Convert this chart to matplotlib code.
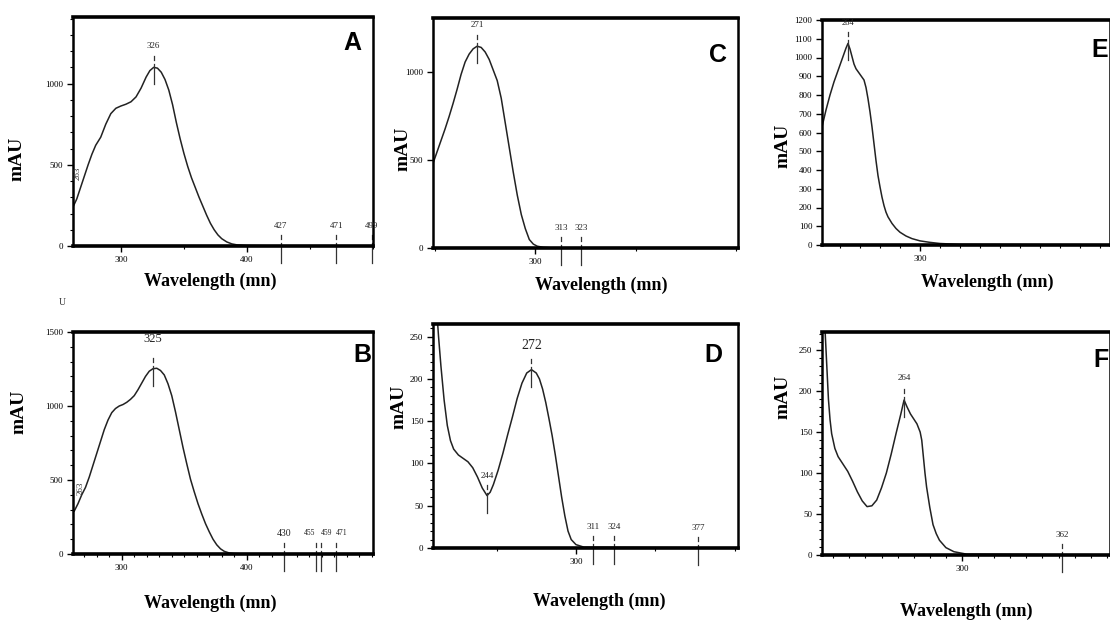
import numpy as np
import matplotlib.pyplot as plt
from matplotlib.ticker import MultipleLocator
from matplotlib.transforms import offset_copy

plt.rcParams['font.family'] = ['Liberation Serif', 'DejaVu Serif']

# 光谱数据
wl_a = [262, 265, 268, 271, 274, 277, 280, 284, 288, 292, 296, 300, 304, 308, 312, 316, 320, 323, 326, 329,
        332, 335, 338, 341, 344, 347, 350, 353, 356, 359, 362, 365, 368, 371, 374, 377, 380, 384, 388, 392,
        400, 420, 500]
mau_a = [240, 290, 360, 430, 500, 565, 620, 670, 750, 815, 848, 862, 873, 888, 918, 972, 1040, 1080, 1100, 1095,
         1070, 1025, 960, 870, 760, 660, 570, 490, 420, 360, 300, 245, 190, 140, 100, 68, 45, 25, 13, 7,
         3, 1, 0]

wl_b = [262, 265, 268, 271, 274, 277, 280, 283, 286, 289, 292, 295, 298, 301, 304, 307, 310, 313, 316, 319,
        322, 325, 328, 331, 334, 337, 340, 343, 346, 349, 352, 355, 358, 361, 364, 367, 370, 373, 376, 379,
        382, 386, 390, 400, 501]
mau_b = [290, 340, 400, 450, 520, 600, 680, 760, 840, 905, 955, 983, 1000, 1010, 1025, 1045, 1070, 1110, 1155, 1200,
         1235, 1252, 1255, 1240, 1210, 1150, 1070, 960, 840, 720, 610, 505, 420, 340, 270, 205, 150, 100, 62, 35,
         18, 7, 3, 0, 0]

wl_c = [249, 251, 253, 255, 257, 259, 261, 263, 265, 267, 269, 271, 273, 275, 277, 279, 281, 283, 285, 287,
        289, 291, 293, 295, 297, 299, 301, 304, 308, 401]
mau_c = [480, 545, 610, 675, 745, 820, 900, 985, 1055, 1100, 1130, 1145, 1138, 1112, 1070, 1010, 950, 850, 710, 570,
         430, 300, 190, 110, 48, 22, 10, 4, 1, 0]

wl_d = [210, 212, 213.5, 215, 217, 219, 221, 223, 226, 229, 232, 235, 238, 241, 244, 246, 248, 251, 254, 257,
        260, 263, 266, 269, 272, 275, 277, 279, 281, 283, 285, 287, 289, 291, 293, 295, 297, 300, 305, 402]
mau_d = [330, 290, 250, 215, 175, 145, 127, 117, 110, 106, 102, 95, 84, 71, 62, 66, 75, 92, 112, 134,
         155, 177, 195, 207, 211, 207, 200, 188, 172, 153, 133, 110, 85, 60, 38, 20, 10, 4, 1, 0]

wl_e = [251, 253, 255, 257, 259, 261, 263, 264, 265, 266, 267, 268, 270, 272, 273, 274, 275, 276, 277, 278,
        279, 280, 281, 282, 283, 284, 286, 288, 290, 293, 296, 300, 305, 310, 320, 395]
mau_e = [630, 720, 800, 870, 930, 990, 1050, 1075, 1045, 1005, 965, 940, 910, 880, 840, 780, 710, 630, 540, 450,
         370, 310, 255, 210, 175, 150, 115, 88, 68, 48, 34, 22, 14, 8, 3, 0]

wl_f = [213, 215, 216, 217, 218, 219, 221, 223, 226, 229, 232, 235, 238, 241, 244, 247, 250, 253, 256, 259,
        262, 264, 266, 268, 270, 272, 274, 275, 276, 277, 278, 280, 282, 284, 286, 290, 295, 303, 392]
mau_f = [290, 270, 230, 190, 165, 148, 130, 120, 111, 102, 90, 77, 66, 59, 60, 67, 82, 100, 123, 148,
         172, 189, 180, 172, 166, 160, 150, 140, 120, 100, 83, 58, 37, 26, 18, 9, 4, 1, 0]

# 峰标记
peaks_a = [326, 427, 471, 499]
peaks_b = [325, 430, 455, 459, 471]
peaks_c = [271, 313, 323]
peaks_d = [272, 244, 311, 324, 377]
peaks_e = [264]
peaks_f = [264, 362]


def Panel(fig, rect, wl, mau, xlim, ylim, yticks, xmaj, xminor, yminor, letter,
          peaks, peak_fs, ylab_pos, xlab_pos, letter_pos):
    ax = fig.add_axes(rect)
    ax.plot(wl, mau, color='#222222', lw=1.1)
    ax.set_xlim(xlim)
    ax.set_ylim(ylim)
    ax.set_yticks(yticks)
    ax.set_xticks(xmaj)
    if xminor:
        ax.xaxis.set_minor_locator(MultipleLocator(xminor))
    if yminor:
        ax.yaxis.set_minor_locator(MultipleLocator(yminor))
    ax.tick_params(which='major', direction='out', length=4, width=1, labelsize=6.5, pad=3)
    ax.tick_params(which='minor', direction='out', length=2, width=0.8)
    for s in ['top', 'bottom']:
        ax.spines[s].set_linewidth(2.6)
    for s in ['left', 'right']:
        ax.spines[s].set_linewidth(1.8)

    # 峰标注: 数字, 小短线, 穿过峰的竖线
    for i, p in enumerate(peaks):
        v = np.interp(p, wl, mau)
        fs, dy, ha = peak_fs[i]
        t_txt = offset_copy(ax.transData, fig=fig, x=0, y=dy, units='dots')
        ax.text(p, v, str(p), transform=t_txt, ha=ha, va='center',
                fontsize=fs, color='#222222', clip_on=False)
        px, py = ax.transData.transform((p, v))
        ax.plot([px, px], [py + 7, py + 11], transform=None, color='#333333', lw=0.9, clip_on=False)
        ax.plot([px, px], [py + 3, py - 17], transform=None, color='#333333', lw=0.9, clip_on=False)

    ax.set_ylabel('mAU', fontsize=14, fontweight='bold')
    ax.yaxis.set_label_coords(ylab_pos[0], ylab_pos[1])
    ax.set_xlabel('Wavelength (mn)', fontsize=13, fontweight='bold')
    ax.xaxis.set_label_coords(xlab_pos[0], xlab_pos[1])
    ax.text(letter_pos[0], letter_pos[1], letter, transform=ax.transAxes, ha='center', va='center',
            fontsize=18, fontweight='bold', family=['Liberation Sans Narrow', 'Liberation Sans', 'DejaVu Sans'])
    return ax


W, H = 1110, 621
fig = plt.figure(figsize=(W / 100, H / 100), dpi=100)


def R(l, r, t, b):
    return [l / W, 1 - b / H, (r - l) / W, (b - t) / H]


axA = Panel(fig, R(73, 373, 17, 246), wl_a, mau_a, (262, 500), (0, 1410), [0, 500, 1000], [300, 400], 50, 100,
            'A', peaks_a, [(6.5, 21, 'center'), (6.5, 20, 'center'), (6.5, 20, 'center'), (6.5, 20, 'center')],
            (-0.16, 0.38), (0.457, -0.115), (0.93, 0.885))
axA.text(266, 448, '263', rotation=90, fontsize=6.5, ha='center', va='center', color='#333333')

axB = Panel(fig, R(73, 373, 332, 554), wl_b, mau_b, (261, 501), (0, 1480), [0, 500, 1000, 1500], [300, 400], 10, 100,
            'B', peaks_b, [(9, 30, 'center'), (7, 21, 'center'), (5.5, 21, 'right'), (5.5, 21, 'left'), (5.5, 21, 'left')],
            (-0.15, 0.64), (0.457, -0.185), (0.963, 0.895))
axB.text(267, 447, '263', rotation=90, fontsize=6.5, ha='center', va='center', color='#333333')
fig.text(62 / W, 1 - 303 / H, 'U', fontsize=7, ha='center', va='center', color='#333333')

axC = Panel(fig, R(433, 738, 18, 248), wl_c, mau_c, (249, 401), (0, 1305), [0, 500, 1000], [300], 50, None,
            'C', peaks_c, [(6.5, 21, 'center'), (6.5, 20, 'center'), (6.5, 20, 'center')],
            (-0.07, 0.43), (0.55, -0.126), (0.934, 0.84))

axD = Panel(fig, R(433, 738, 324, 548), wl_d, mau_d, (210, 402), (0, 265), [0, 50, 100, 150, 200, 250], [300], 50, 10,
            'D', peaks_d, [(10, 24, 'center'), (6.5, 20, 'center'), (6.5, 20, 'center'), (6.5, 20, 'center'), (6.5, 20, 'center')],
            (-0.085, 0.63), (0.545, -0.2), (0.918, 0.86))

axE = Panel(fig, R(822, 1110, 20, 245), wl_e, mau_e, (251, 395), (0, 1200), list(range(0, 1201, 100)), [300], 10, None,
            'E', peaks_e, [(6, 20, 'center')], (-0.105, 0.44), (0.573, -0.129), (0.965, 0.867))

axF = Panel(fig, R(822, 1110, 332, 555), wl_f, mau_f, (213, 392), (0, 272), [0, 50, 100, 150, 200, 250], [300], 10, 10,
            'F', peaks_f, [(6.5, 22, 'center'), (6.5, 20, 'center')], (-0.105, 0.71), (0.50, -0.212), (0.97, 0.875))

fig.savefig('out.png', dpi=100)
